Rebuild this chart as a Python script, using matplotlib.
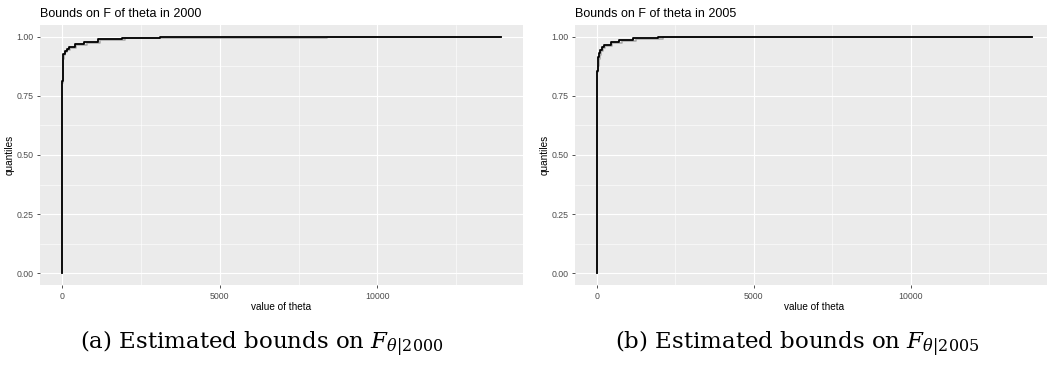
import matplotlib
matplotlib.use("Agg")
import matplotlib.pyplot as plt
from matplotlib.ticker import MultipleLocator, FormatStrFormatter

# Step-function bounds on F(theta): theta values where the CDF jumps, and the level after the jump
theta_upper_2000 = [0, 0, 20, 30, 41, 95, 148, 222, 411, 707, 1129, 1889, 3101, 8418, 13920]
F_upper_2000 = [0.0, 0.813, 0.877, 0.913, 0.927, 0.941, 0.948, 0.955, 0.969, 0.976, 0.990, 0.9958, 0.998, 1.0, 1.0]
theta_lower_2000 = [0, 0, 28, 40, 55, 110, 170, 250, 460, 780, 1220, 2000, 3300, 8418, 13920]
F_lower_2000 = [0.0, 0.805, 0.870, 0.907, 0.921, 0.936, 0.944, 0.951, 0.965, 0.972, 0.986, 0.994, 0.997, 1.0, 1.0]

theta_upper_2005 = [0, 0, 25, 54, 86, 118, 172, 245, 459, 723, 1146, 1943, 5150, 13880]
F_upper_2005 = [0.0, 0.856, 0.884, 0.913, 0.930, 0.944, 0.955, 0.966, 0.976, 0.987, 0.994, 0.9985, 1.0, 1.0]
theta_lower_2005 = [0, 0, 32, 64, 98, 132, 190, 275, 500, 790, 1240, 2100, 8400, 13880]
F_lower_2005 = [0.0, 0.850, 0.878, 0.907, 0.925, 0.939, 0.951, 0.962, 0.972, 0.983, 0.991, 0.9975, 1.0, 1.0]

years = ["2000", "2005"]
panel_letters = ["a", "b"]
caption_centres = [262, 797]

plt.rcParams["font.family"] = ["Liberation Sans", "DejaVu Sans"]
plt.rcParams["mathtext.fontset"] = "dejavuserif"

W, H = 1047, 369
fig = plt.figure(figsize=(W / 100, H / 100), dpi=100)
fig.patch.set_facecolor("white")


def box(x0, x1, top, bottom):
    return [x0 / W, (H - bottom) / H, (x1 - x0) / W, (bottom - top) / H]


panels = [
    (box(40, 523, 25, 285), theta_upper_2000, F_upper_2000, theta_lower_2000, F_lower_2000),
    (box(575, 1054, 25, 285), theta_upper_2005, F_upper_2005, theta_lower_2005, F_lower_2005),
]

for i, (rect, tu, fu, tl, fl) in enumerate(panels):
    ax = fig.add_axes(rect)
    ax.set_facecolor("#EBEBEB")
    ax.step(tl, fl, where="post", color="#a8a8a8", lw=1.1, zorder=3)
    ax.step(tu, fu, where="post", color="black", lw=1.3, zorder=4)
    ax.margins(x=0.05, y=0.05)

    ax.xaxis.set_major_locator(MultipleLocator(5000))
    ax.xaxis.set_minor_locator(MultipleLocator(2500))
    ax.yaxis.set_major_locator(MultipleLocator(0.25))
    ax.yaxis.set_minor_locator(MultipleLocator(0.125))
    ax.yaxis.set_major_formatter(FormatStrFormatter("%.2f"))
    ax.grid(which="major", color="white", lw=0.8, zorder=0)
    ax.grid(which="minor", color="white", lw=0.4, zorder=0)
    ax.set_axisbelow(True)
    for s in ax.spines.values():
        s.set_visible(False)
    ax.tick_params(which="major", length=2.5, width=0.6, color="#333333",
                   labelsize=6.3, labelcolor="#4D4D4D", pad=2.2)
    ax.tick_params(which="minor", length=0)

    ax.set_xlabel("value of theta", fontsize=7.2, labelpad=1.0)
    ax.set_ylabel("quantiles", fontsize=7.2, labelpad=1.5)
    ax.set_title("Bounds on F of theta in " + years[i], loc="left",
                 fontsize=9, pad=5.5)

    fig.text(caption_centres[i] / W, (H - 343) / H,
             "(" + panel_letters[i] + ") Estimated bounds on $F_{\\theta|" + years[i] + "}$",
             ha="center", va="center", fontsize=16.5, family="DejaVu Serif")

fig.savefig("out.png", dpi=100, facecolor="white")
